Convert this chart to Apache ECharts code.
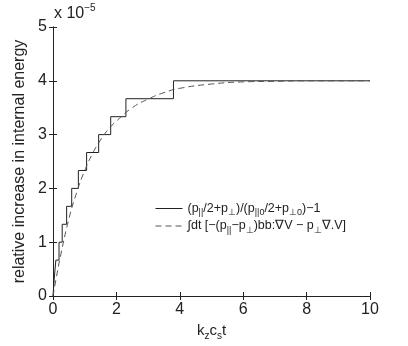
<!DOCTYPE html>
<html>
<head>
<meta charset="utf-8">
<script src="https://cdn.jsdelivr.net/npm/echarts@6/dist/echarts.min.js"></script>
<style>
  html, body { margin: 0; padding: 0; background: #fff; }
  #chart { width: 408px; height: 346px; }
</style>
</head>
<body>
<div id="chart"></div>
<script>
// values in units of 1e-5
const stepTimes = [0, 0.04, 0.09, 0.19, 0.29, 0.43, 0.59, 0.80, 1.06, 1.44, 1.82, 2.30, 3.80, 10]
const stepLevels = [0, 0.333, 0.667, 1.0, 1.333, 1.667, 2.0, 2.333, 2.667, 3.0, 3.333, 3.667, 4.0, 4.0]
const intTimes = [0, 0.1, 0.25, 0.5, 0.75, 1.0, 1.25, 1.5, 1.75, 2.0, 2.5, 3.0, 3.5, 4.0, 5.0, 6.0, 7.0, 8.0, 10]
const intValues = [0, 0.33, 0.78, 1.43, 1.93, 2.33, 2.65, 2.9, 3.1, 3.25, 3.5, 3.66, 3.78, 3.86, 3.94, 3.98, 3.99, 4.0, 4.0]

const FONT = 'Liberation Sans'
const ink = '#222'

const chart = echarts.init(document.getElementById('chart'))

// rich text pieces: b = normal, s = subscript
const nameB = { fontSize: 15, fontFamily: FONT, color: ink, lineHeight: 20, verticalAlign: 'middle' }
const nameS = { fontSize: 10, fontFamily: FONT, color: ink, lineHeight: 10, verticalAlign: 'bottom' }
const legB = { fontSize: 12.5, fontFamily: FONT, color: ink, lineHeight: 18, verticalAlign: 'middle' }
const legS = { fontSize: 9, fontFamily: FONT, color: ink, lineHeight: 10, verticalAlign: 'bottom' }

const legendText = {
  ratio: '{b|(p}{s|||}{b|/2+p}{s|⊥}{b|)/(p}{s|||0}{b|/2+p}{s|⊥0}{b|)−1}',
  integral: '{b|∫dt [−(p}{s|||}{b|−p}{s|⊥}{b|)bb:∇V − p}{s|⊥}{b|∇.V]}'
}

const mirrorAxis = {
  min: 0,
  axisLine: { show: true, lineStyle: { color: ink, width: 1 } },
  axisTick: { show: true, inside: true, length: 4, lineStyle: { color: ink } },
  axisLabel: { show: false },
  splitLine: { show: false }
}

chart.setOption({
  animation: false,
  grid: { left: 53, right: 38, top: 27, bottom: 48 },
  xAxis: [{
    type: 'value', min: 0, max: 10, interval: 2,
    name: '{b|k}{s|z}{b|c}{s|s}{b|t}',
    nameLocation: 'middle', nameGap: 25,
    nameTextStyle: { rich: { b: nameB, s: nameS } },
    axisLine: { lineStyle: { color: ink, width: 1 } },
    axisTick: { inside: true, length: 4, lineStyle: { color: ink } },
    axisLabel: { fontSize: 16, fontFamily: FONT, color: ink, margin: 6 },
    splitLine: { show: false }
  }, Object.assign({ type: 'value', max: 10, interval: 2, position: 'top' }, mirrorAxis)],
  yAxis: [{
    type: 'value', min: 0, max: 5, interval: 1,
    name: 'relative increase in internal energy',
    nameLocation: 'middle', nameGap: 14,
    nameTextStyle: { fontSize: 16, fontFamily: FONT, color: ink },
    axisLine: { lineStyle: { color: ink, width: 1 } },
    axisTick: { inside: true, length: 4, lineStyle: { color: ink } },
    axisLabel: { fontSize: 16, fontFamily: FONT, color: ink, margin: 6 },
    splitLine: { show: false }
  }, Object.assign({ type: 'value', max: 5, interval: 1, position: 'right' }, mirrorAxis)],
  legend: {
    left: 155, top: 202, orient: 'vertical', padding: 0,
    itemWidth: 27, itemHeight: 8, itemGap: 2,
    data: ['ratio', 'integral'],
    itemStyle: { opacity: 0 },
    lineStyle: { width: 1 },
    formatter: function (n) { return legendText[n] },
    textStyle: { rich: { b: legB, s: legS } }
  },
  graphic: [{
    type: 'text', left: 54, top: 3,
    style: {
      text: '{b|x 10}{p|−5}',
      rich: {
        b: { fontSize: 16, fontFamily: FONT, fill: ink, lineHeight: 22, verticalAlign: 'middle' },
        p: { fontSize: 10, fontFamily: FONT, fill: ink, lineHeight: 10, verticalAlign: 'top' }
      }
    }
  }],
  series: [{
    name: 'ratio', type: 'line', step: 'end', symbol: 'none',
    data: stepTimes.map((t, i) => [t, stepLevels[i]]),
    lineStyle: { color: '#222', width: 1 },
    itemStyle: { color: '#222' }
  }, {
    name: 'integral', type: 'line', smooth: true, symbol: 'none',
    data: intTimes.map((t, i) => [t, intValues[i]]),
    lineStyle: { color: '#555', width: 1, type: [6, 4] },
    itemStyle: { color: '#555' }
  }]
})
</script>
</body>
</html>
